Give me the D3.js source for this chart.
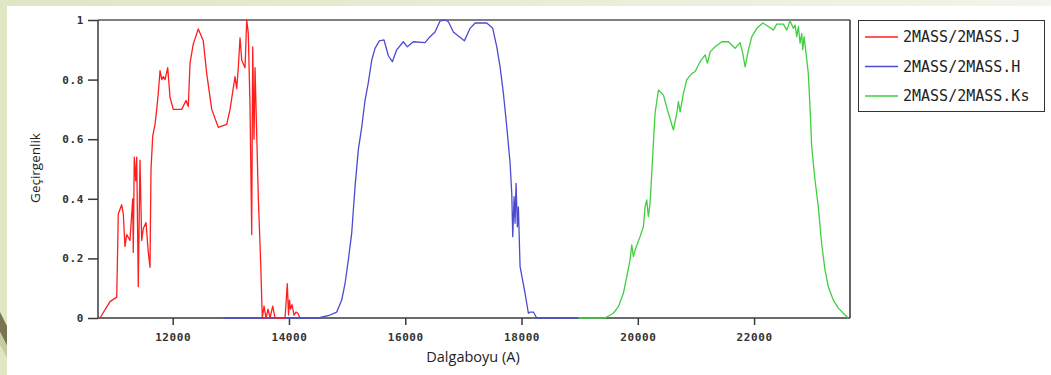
<!DOCTYPE html>
<html>
<head>
<meta charset="utf-8">
<script src="https://cdn.jsdelivr.net/npm/d3@7"></script>
<style>
  html, body { margin: 0; padding: 0; }
  body { width: 1051px; height: 375px; overflow: hidden; background: #e6ebd1; }
</style>
</head>
<body>
<div id="chart"></div>
<script>
// Filter transmission curves: [wavelength (A), transmission]
const jBand = [
  [10749, 0], [10921, 0.055], [11037, 0.07], [11047, 0.17], [11064, 0.35], [11123, 0.38],
  [11150, 0.35], [11179, 0.24], [11209, 0.28], [11265, 0.26], [11312, 0.40], [11322, 0.22],
  [11339, 0.54], [11364, 0.46], [11381, 0.54], [11408, 0.105], [11437, 0.53], [11467, 0.26],
  [11494, 0.30], [11541, 0.32], [11580, 0.22], [11610, 0.17], [11615, 0.28], [11627, 0.50],
  [11656, 0.61], [11696, 0.65], [11725, 0.70], [11752, 0.755], [11782, 0.83], [11811, 0.80],
  [11838, 0.81], [11868, 0.80], [11914, 0.84], [11954, 0.74], [12010, 0.70], [12155, 0.70],
  [12229, 0.73], [12268, 0.71], [12298, 0.855], [12354, 0.92], [12440, 0.97], [12526, 0.93],
  [12585, 0.82], [12671, 0.70], [12784, 0.64], [12929, 0.65], [12986, 0.70], [13072, 0.81],
  [13101, 0.77], [13128, 0.84], [13158, 0.94], [13187, 0.865], [13244, 0.84], [13273, 1.0],
  [13300, 0.955], [13330, 0.71], [13359, 0.28], [13376, 0.91], [13399, 0.60], [13416, 0.84],
  [13473, 0.40], [13514, 0.18], [13541, 0], [13571, 0.04], [13605, 0], [13640, 0.03],
  [13674, 0], [13720, 0.04], [13760, 0], [13932, 0], [13971, 0.115], [13992, 0.01],
  [14009, 0.06], [14026, 0.03], [14052, 0.045], [14087, 0.01], [14121, 0.02], [14156, 0.015],
  [14190, 0]
];
const hBand = [
  [12871, 0], [14505, 0], [14706, 0.01], [14821, 0.02], [14907, 0.06], [14964, 0.115],
  [15021, 0.195], [15079, 0.285], [15136, 0.44], [15193, 0.565], [15251, 0.64], [15308, 0.73],
  [15365, 0.79], [15423, 0.865], [15480, 0.905], [15554, 0.93], [15635, 0.933], [15709, 0.88],
  [15778, 0.86], [15853, 0.90], [15967, 0.927], [16036, 0.91], [16139, 0.927], [16340, 0.924],
  [16426, 0.944], [16512, 0.96], [16598, 0.997], [16684, 1.0], [16742, 0.994], [16828, 0.96],
  [16914, 0.946], [17017, 0.93], [17115, 0.972], [17201, 0.99], [17402, 0.99], [17505, 0.972],
  [17574, 0.91], [17631, 0.843], [17688, 0.754], [17746, 0.642], [17803, 0.52], [17832, 0.418],
  [17849, 0.273], [17872, 0.407], [17889, 0.318], [17906, 0.452], [17929, 0.306], [17946, 0.373],
  [17975, 0.172], [18061, 0.083], [18118, 0.016], [18147, 0.02], [18204, 0.02], [18262, 0],
  [18977, 0]
];
const ksBand = [
  [18977, 0], [19437, 0], [19580, 0.016], [19666, 0.038], [19752, 0.083], [19810, 0.139],
  [19867, 0.195], [19896, 0.245], [19924, 0.206], [19953, 0.228], [20039, 0.273], [20096, 0.306],
  [20125, 0.373], [20154, 0.396], [20182, 0.34], [20211, 0.385], [20240, 0.486], [20268, 0.586],
  [20297, 0.687], [20355, 0.765], [20441, 0.748], [20510, 0.698], [20613, 0.631], [20670, 0.687],
  [20699, 0.726], [20728, 0.692], [20785, 0.754], [20842, 0.80], [20928, 0.82], [20986, 0.827],
  [21072, 0.86], [21158, 0.883], [21198, 0.855], [21244, 0.893], [21330, 0.91], [21444, 0.927],
  [21559, 0.927], [21674, 0.905], [21760, 0.924], [21806, 0.888], [21846, 0.843], [21903, 0.90],
  [21961, 0.944], [22047, 0.972], [22150, 0.99], [22246, 0.978], [22332, 0.966], [22390, 0.986],
  [22504, 0.986], [22562, 0.966], [22619, 0.997], [22676, 0.972], [22705, 0.983], [22734, 0.944],
  [22762, 0.978], [22791, 0.922], [22820, 0.955], [22837, 0.90], [22860, 0.944], [22894, 0.888],
  [22933, 0.82], [22962, 0.71], [22991, 0.575], [23048, 0.463], [23105, 0.373], [23162, 0.25],
  [23220, 0.161], [23277, 0.105], [23363, 0.06], [23449, 0.033], [23535, 0.016], [23621, 0]
];
const seriesNames = ["2MASS/2MASS.J", "2MASS/2MASS.H", "2MASS/2MASS.Ks"];
const seriesColors = ["#ff1e1e", "#4b4bd2", "#3fcf3f"];
const xTicks = [12000, 14000, 16000, 18000, 20000, 22000];
const yTicks = [0, 0.2, 0.4, 0.6, 0.8, 1];
const xDomain = [10715, 23650];

const W = 1051, H = 375;
const plot = { left: 98, right: 850, top: 20, bottom: 318 };

const svg = d3.select("#chart").append("svg")
  .attr("width", W).attr("height", H);

// slide-style background
const grad = svg.append("defs").append("linearGradient").attr("id", "bg");
grad.append("stop").attr("offset", "0%").attr("stop-color", "#dfe6c3");
grad.append("stop").attr("offset", "100%").attr("stop-color", "#f3f4ea");
svg.append("rect").attr("width", W).attr("height", H).attr("fill", "url(#bg)");
svg.append("polygon").attr("points", "0,312 7,326 7,346 0,332").attr("fill", "#7b7452");
svg.append("polygon").attr("points", "0,332 7,346 7,358 0,345").attr("fill", "#c7cba3");
svg.append("rect").attr("x", 7).attr("y", 6).attr("width", W - 7).attr("height", H - 6).attr("fill", "#fff");

const x = d3.scaleLinear().domain(xDomain).range([plot.left, plot.right]);
const y = d3.scaleLinear().domain([0, 1]).range([plot.bottom, plot.top]);

// axes
const xAxis = svg.append("g")
  .attr("transform", `translate(0,${plot.bottom})`)
  .call(d3.axisBottom(x).tickValues(xTicks).tickSize(7).tickPadding(8).tickFormat(d3.format("d")));
const yAxis = svg.append("g")
  .attr("transform", `translate(${plot.left},0)`)
  .call(d3.axisLeft(y).tickValues(yTicks).tickSize(10).tickPadding(4)
    .tickFormat(d => (d === 0 || d === 1) ? d : d.toFixed(1)));

[xAxis, yAxis].forEach(g => {
  g.select(".domain").remove();
  g.selectAll(".tick line").attr("stroke", "#3a3a3a").attr("stroke-width", 1.5);
  g.selectAll(".tick text")
    .attr("fill", "#333")
    .style("font-family", "'DejaVu Sans Mono', monospace")
    .style("font-weight", "bold")
    .style("font-size", "11px")
    .style("letter-spacing", "0.6px");
});

// plot frame
svg.append("line").attr("x1", plot.left).attr("x2", plot.right)
  .attr("y1", plot.top).attr("y2", plot.top).attr("stroke", "#555").attr("stroke-width", 1.5);
svg.append("line").attr("x1", plot.right).attr("x2", plot.right)
  .attr("y1", plot.top).attr("y2", plot.bottom).attr("stroke", "#333").attr("stroke-width", 1.5);
svg.append("line").attr("x1", plot.left).attr("x2", plot.left)
  .attr("y1", plot.top).attr("y2", plot.bottom).attr("stroke", "#3a3a3a").attr("stroke-width", 1.5);
svg.append("line").attr("x1", plot.left).attr("x2", plot.right)
  .attr("y1", plot.bottom).attr("y2", plot.bottom).attr("stroke", "#3a3a3a").attr("stroke-width", 1.5);

// curves (H first so J sits on top of the shared zero line)
const line = d3.line().x(d => x(d[0])).y(d => y(d[1]));
const bands = [jBand, hBand, ksBand];
[1, 0, 2].forEach(i => {
  svg.append("path")
    .datum(bands[i])
    .attr("fill", "none")
    .attr("stroke", seriesColors[i])
    .attr("stroke-width", 1.3)
    .attr("stroke-linejoin", "round")
    .attr("d", line);
});

// axis titles
svg.append("text")
  .attr("x", 473).attr("y", 362)
  .attr("text-anchor", "middle")
  .attr("fill", "#222")
  .style("font-family", "'Open Sans', sans-serif")
  .style("font-size", "14.5px")
  .text("Dalgaboyu (A)");
svg.append("text")
  .attr("transform", "translate(40,168) rotate(-90)")
  .attr("text-anchor", "middle")
  .attr("fill", "#222")
  .style("font-family", "'Open Sans', sans-serif")
  .style("font-size", "13.5px")
  .text("Geçirgenlik");

// legend
const legend = svg.append("g");
legend.append("rect")
  .attr("x", 858.5).attr("y", 20.5).attr("width", 186).attr("height", 91)
  .attr("fill", "#fff").attr("stroke", "#333").attr("stroke-width", 1);
const legendY = d3.scalePoint().domain(seriesNames).range([37, 96]);
seriesNames.forEach((name, i) => {
  legend.append("line")
    .attr("x1", 865).attr("x2", 898)
    .attr("y1", legendY(name)).attr("y2", legendY(name))
    .attr("stroke", seriesColors[i]).attr("stroke-width", 1.3);
  legend.append("text")
    .attr("x", 903).attr("y", legendY(name))
    .attr("dominant-baseline", "central")
    .attr("fill", "#222")
    .style("font-family", "'DejaVu Sans Mono', monospace")
    .style("font-size", "15px")
    .text(name);
});
</script>
</body>
</html>
